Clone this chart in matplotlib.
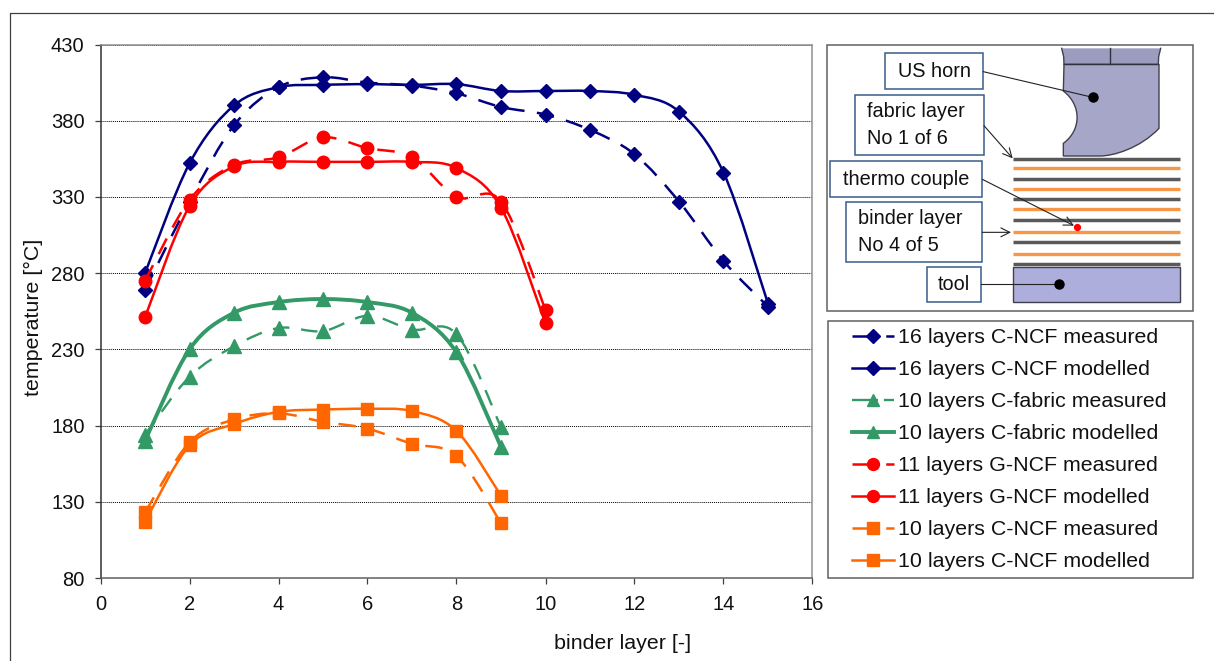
import matplotlib
matplotlib.use('Agg')
import matplotlib.pyplot as plt
from matplotlib.lines import Line2D
from matplotlib.patches import PathPatch, Polygon, Rectangle
from matplotlib.path import Path

plt.rcParams['font.family'] = ['Liberation Sans', 'DejaVu Sans']

# binder layer numbers
layers_16 = [1, 2, 3, 4, 5, 6, 7, 8, 9, 10, 11, 12, 13, 14, 15]
layers_11 = [1, 2, 3, 4, 5, 6, 7, 8, 9, 10]
layers_10 = [1, 2, 3, 4, 5, 6, 7, 8, 9]

# temperatures
cncf16_meas = [269, 327, 377, 402, 408.5, 405, 403, 398, 389, 384, 374, 358, 327, 288, 258]
cncf16_mod = [280, 352, 390, 402, 403.5, 404, 403.5, 404, 399.5, 399.5, 399.5, 397, 386, 346, 260]
cfab10_meas = [174, 212, 232, 244, 242, 252, 243, 240, 179]
cfab10_mod = [170, 230, 254, 261, 263, 261, 254, 228, 166]
gncf11_meas = [275, 328, 351, 356, 369, 362, 356, 330, 327, 256]
gncf11_mod = [251, 324, 350, 353, 353, 353, 353, 349, 323, 247]
cncf10_meas = [123, 169, 184, 188, 182.5, 178, 168, 160, 116]
cncf10_mod = [117, 167, 181, 189, 190.5, 191, 189.5, 176.5, 134]

x_ticks = [0, 2, 4, 6, 8, 10, 12, 14, 16]
y_ticks = [80, 130, 180, 230, 280, 330, 380, 430]

NAVY = '#000080'
GREEN = '#339966'
RED = '#FF0000'
ORANGE = '#FF6600'
DASHED = (0, (7, 5))
LEGEND_DASH = (0, (11, 2.5))

W, H = 1214, 661


def smooth_path(xs, ys):
    # same kind of smoothed line as a spreadsheet scatter chart
    pts = list(zip(xs, ys))
    verts = [pts[0]]
    codes = [Path.MOVETO]
    for i in range(len(pts) - 1):
        p0 = pts[max(i - 1, 0)]
        p1 = pts[i]
        p2 = pts[i + 1]
        p3 = pts[min(i + 2, len(pts) - 1)]
        c1 = (p1[0] + (p2[0] - p0[0]) / 6, p1[1] + (p2[1] - p0[1]) / 6)
        c2 = (p2[0] - (p3[0] - p1[0]) / 6, p2[1] - (p3[1] - p1[1]) / 6)
        verts += [c1, c2, p2]
        codes += [Path.CURVE4, Path.CURVE4, Path.CURVE4]
    return Path(verts, codes)


fig = plt.figure(figsize=(W / 100, H / 100), dpi=100, facecolor='white')

# outer frame, only top and left are visible
frame = fig.add_axes([0, 0, 1, 1], zorder=0)
frame.set_xlim(0, W)
frame.set_ylim(H, 0)
frame.axis('off')
frame.plot([9.5, 9.5, W], [H, 12.5, 12.5], color='#404040', lw=0.9)

ax = fig.add_axes([100.5 / W, 1 - 578 / H, 712 / W, 533.5 / H], zorder=1)
ax.set_xlim(0, 16)
ax.set_ylim(80, 430)
ax.set_xticks(x_ticks)
ax.set_yticks(y_ticks)
ax.tick_params(length=4, width=0.9, color='#404040', labelsize=14.5, labelcolor='#111111')
ax.tick_params(axis='x', pad=8)
ax.tick_params(axis='y', pad=7.5)
ax.grid(axis='y', color='black', lw=0.7, ls=(0, (1, 1)))
ax.set_axisbelow(True)
ax.spines['left'].set_color('#303030')
ax.spines['bottom'].set_color('#606060')
ax.spines['top'].set_color('#909090')
ax.spines['right'].set_color('#909090')
for s in ax.spines.values():
    s.set_linewidth(1.1)

series = [
    (layers_16, cncf16_meas, NAVY, 'D', 7.2, 1.8, DASHED, '16 layers C-NCF measured'),
    (layers_16, cncf16_mod, NAVY, 'D', 7.2, 1.8, '-', '16 layers C-NCF modelled'),
    (layers_10, cfab10_meas, GREEN, '^', 9.5, 1.7, DASHED, '10 layers C-fabric measured'),
    (layers_10, cfab10_mod, GREEN, '^', 9.5, 2.8, '-', '10 layers C-fabric modelled'),
    (layers_11, gncf11_meas, RED, 'o', 9, 1.8, DASHED, '11 layers G-NCF measured'),
    (layers_11, gncf11_mod, RED, 'o', 9, 1.8, '-', '11 layers G-NCF modelled'),
    (layers_10, cncf10_meas, ORANGE, 's', 8.6, 1.8, DASHED, '10 layers C-NCF measured'),
    (layers_10, cncf10_mod, ORANGE, 's', 8.6, 1.8, '-', '10 layers C-NCF modelled'),
]

handles = []
for xs, ys, col, mark, ms, lw, ls, label in series:
    ax.add_patch(PathPatch(smooth_path(xs, ys), fill=False, edgecolor=col, lw=lw, ls=ls,
                           capstyle='butt', zorder=3))
    ax.plot(xs, ys, ls='none', marker=mark, ms=ms, color=col, mec=col, zorder=3)
    handles.append(Line2D([0], [0], color=col, lw=lw, marker=mark, ms=ms * 0.95,
                          ls=LEGEND_DASH if ls == DASHED else '-', dash_capstyle='butt', label=label))

ax.set_xlabel('binder layer [-]', fontsize=15.4, color='#111111')
ax.xaxis.set_label_coords(0.733, -0.105)
ax.set_ylabel('temperature [°C]', fontsize=15.4, color='#111111')
ax.yaxis.set_label_coords(-0.081, 0.489)

# legend box
frame.add_patch(Rectangle((828, 321), 365, 257, fc='white', ec='#606060', lw=1.1))
fig.legend(handles=handles, frameon=False, loc='upper left', bbox_to_anchor=(852 / W, 1 - 328 / H),
           borderpad=0, borderaxespad=0, fontsize=15.4, handlelength=1.96, handletextpad=0.2,
           labelspacing=0.61, labelcolor='#111111')

# process sketch, coordinates in a 3x grid of the panel
sk = fig.add_axes([820 / W, 1 - 320 / H, 394 / W, 290 / H], zorder=2)
sk.set_xlim(0, 1182)
sk.set_ylim(870, 0)
sk.axis('off')
sk.add_patch(Rectangle((22, 45), 1098, 798, fc='white', ec='#606060', lw=1.1))

sk.add_patch(Polygon([(725, 55), (1022, 55), (1016, 80), (1015, 103), (732, 103), (731, 80)],
                     fc='#9C9CBE', ec='none'))
sk.plot([732, 1015], [102, 102], color='#303040', lw=1)
sk.plot([869, 869], [55, 102], color='#303040', lw=1)
sk.plot([725, 731, 732], [55, 80, 103], color='#404050', lw=1)
sk.plot([1022, 1016, 1015], [55, 80, 103], color='#404050', lw=1)
horn = Path(
    [(732, 103), (1017, 103), (1017, 295), (960, 355), (880, 378), (840, 378), (730, 378), (730, 340),
     (785, 300), (785, 225), (730, 183), (732, 103)],
    [Path.MOVETO, Path.LINETO, Path.LINETO, Path.CURVE4, Path.CURVE4, Path.CURVE4, Path.LINETO, Path.LINETO,
     Path.CURVE4, Path.CURVE4, Path.CURVE4, Path.CLOSEPOLY])
sk.add_patch(PathPatch(horn, fc='#A6A6C8', ec='#404050', lw=1))

for y in [387, 448, 506, 569, 636, 701]:
    sk.plot([578, 1080], [y, y], color='#595959', lw=2.5, solid_capstyle='butt')
for y in [415, 478, 536, 605, 673]:
    sk.plot([578, 1080], [y, y], color='#F79646', lw=2.4, solid_capstyle='butt')
sk.add_patch(Rectangle((578, 710), 502, 107, fc='#AEAEDC', ec='#404050', lw=1))


def label_box(x0, y0, x1, y1, text, tx=None):
    sk.add_patch(Rectangle((x0, y0), x1 - x0, y1 - y0, fc='white', ec='#385D8A', lw=1.1))
    if tx is None:
        sk.text((x0 + x1) / 2, (y0 + y1) / 2, text, ha='center', va='center', fontsize=14.3, color='#111111')
    else:
        sk.text(tx, (y0 + y1) / 2, text, ha='left', va='center', fontsize=14.3, color='#111111', linespacing=1.55)


label_box(196, 70, 489, 178, 'US horn')
label_box(106, 196, 491, 376, 'fabric layer\nNo 1 of 6', tx=140)
label_box(31, 394, 487, 502, 'thermo couple')
label_box(79, 517, 487, 697, 'binder layer\nNo 4 of 5', tx=114)
label_box(320, 710, 484, 817, 'tool')

sk.plot([490, 818], [125, 202], color='#222222', lw=0.8)
sk.plot([818], [202], 'o', color='black', ms=6.5)
sk.plot([484, 718], [763, 763], color='#222222', lw=0.8)
sk.plot([718], [763], 'o', color='black', ms=6.5)
for start, end in [((492, 287), (578, 385)), ((487, 448), (762, 587)), ((487, 607), (573, 607))]:
    sk.annotate('', xy=end, xytext=start,
                arrowprops=dict(arrowstyle='->', color='#222222', lw=0.8, mutation_scale=16,
                                shrinkA=0, shrinkB=0))
sk.plot([770], [590], 'o', color='#FF0000', ms=4.2)

fig.savefig('out.png', dpi=100)
